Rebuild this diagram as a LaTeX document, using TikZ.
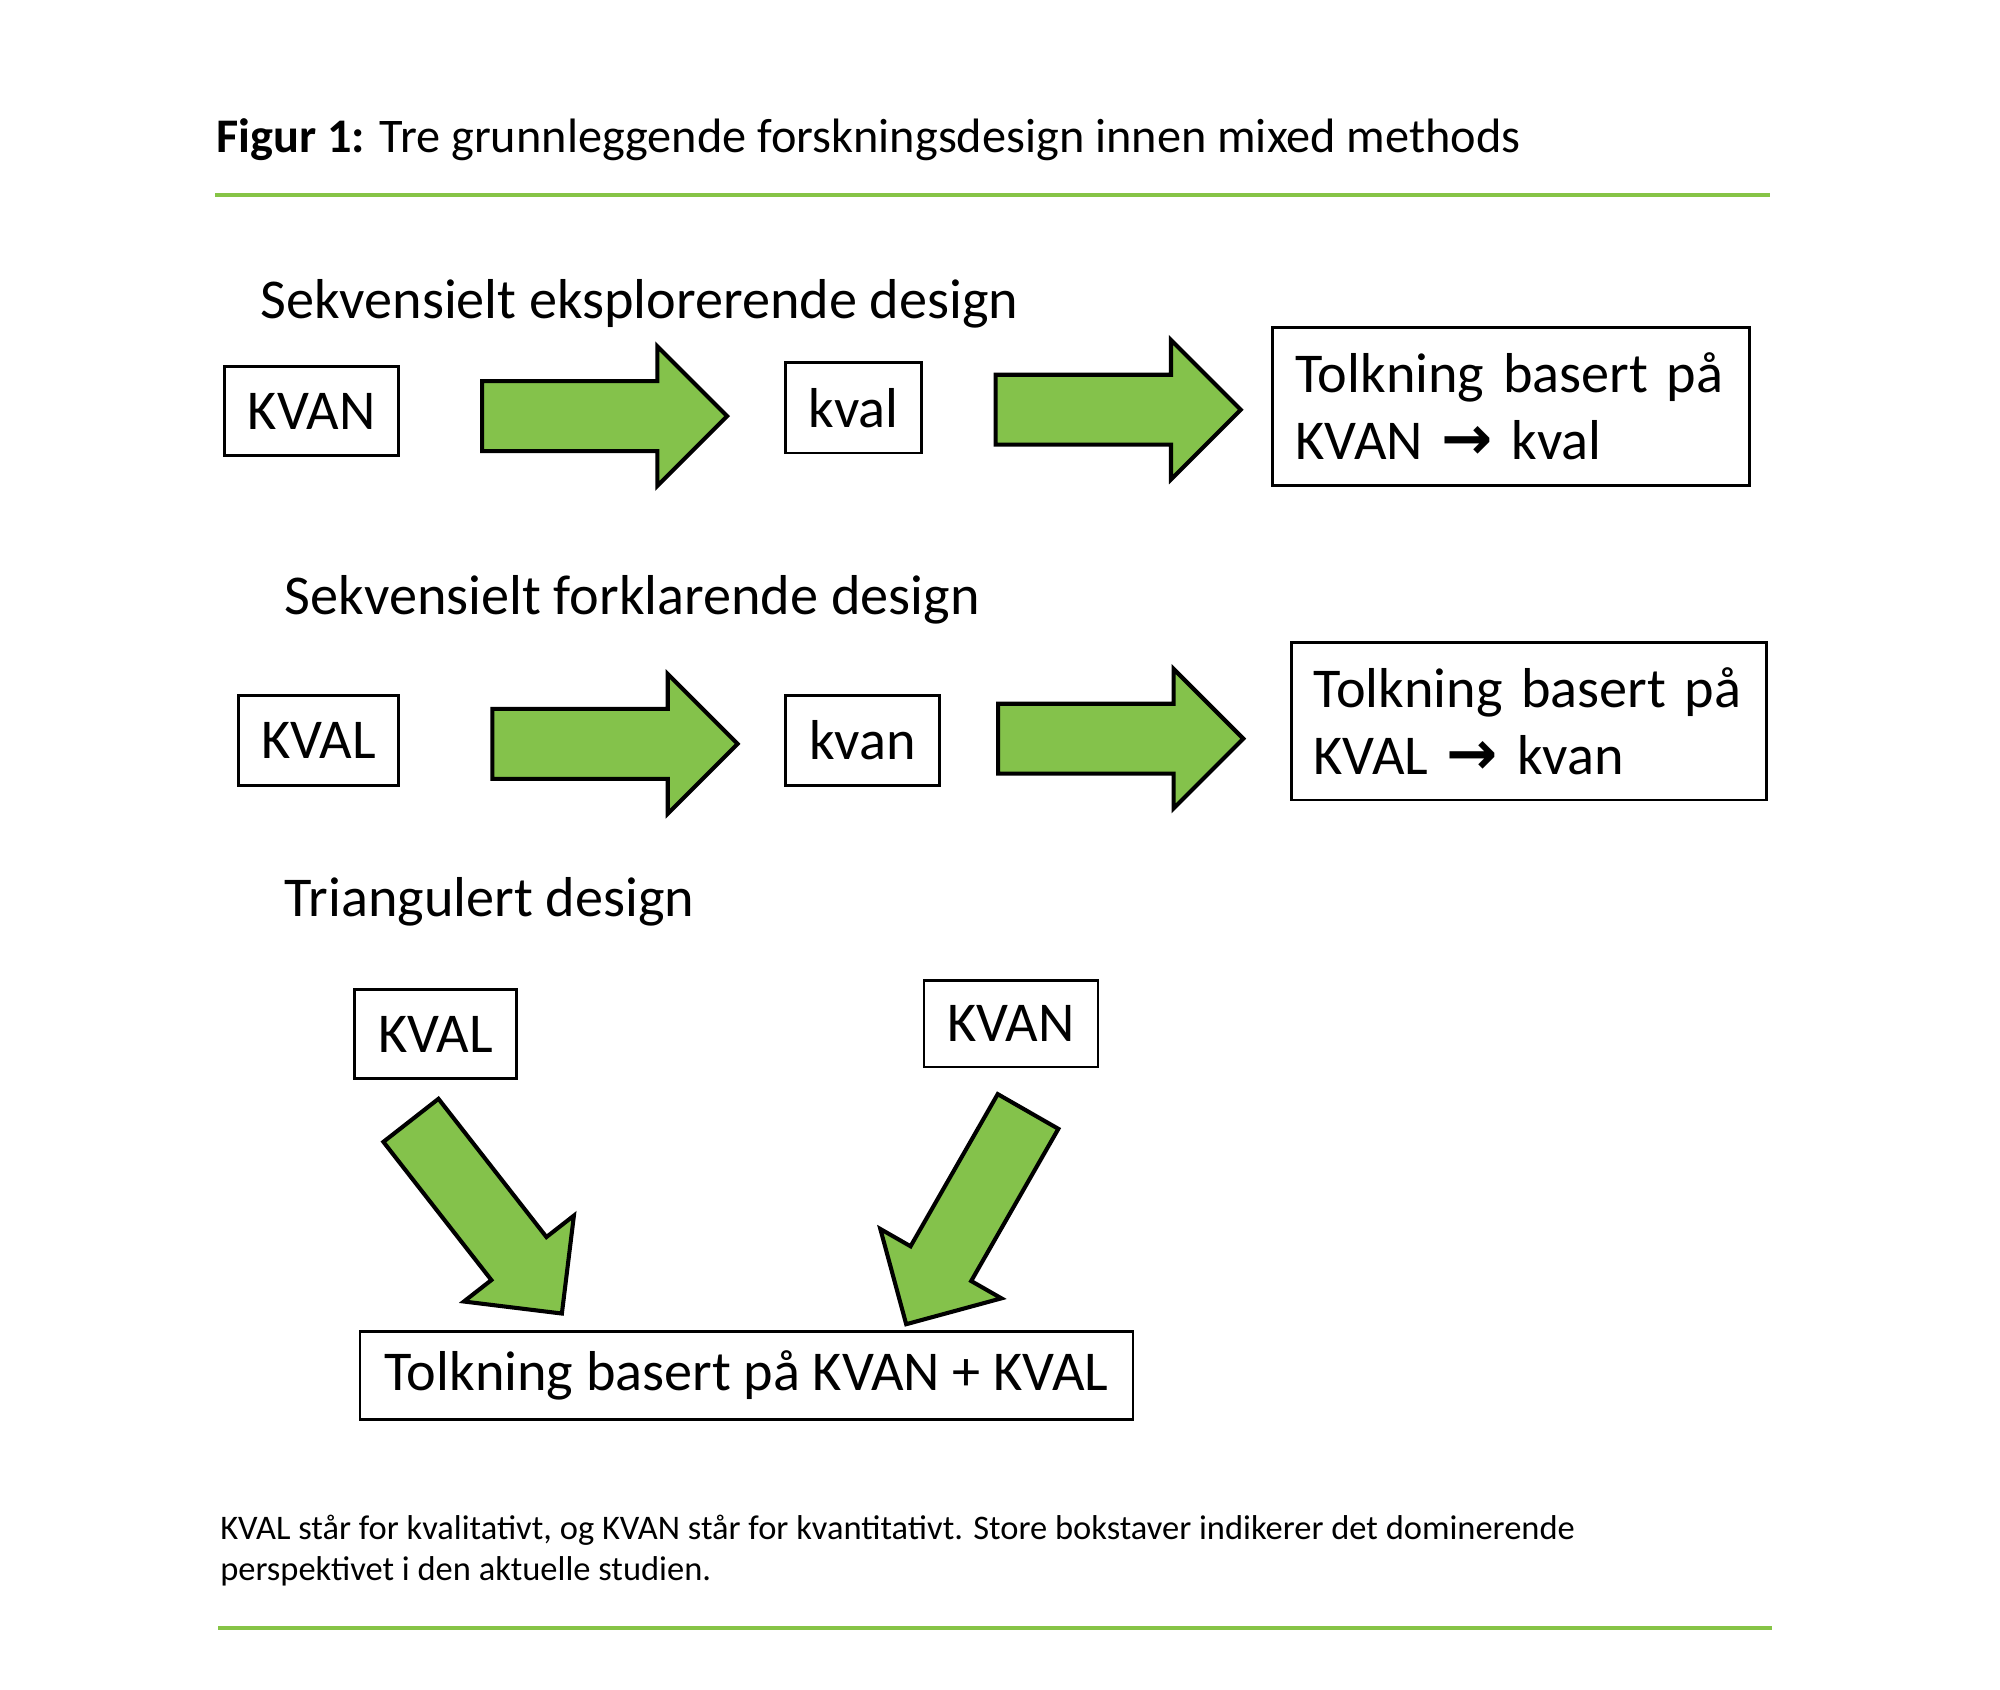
\documentclass[tikz,border=0pt]{standalone}
\usepackage{fontspec}
\setmainfont{Carlito}
\newfontfamily\arrowfont{DejaVu Sans}
\usetikzlibrary{shapes.arrows}
\definecolor{figgreen}{RGB}{132,194,75}
\definecolor{rulegreen}{RGB}{134,196,70}
\newcommand{\rarr}{{\arrowfont\bfseries\fontsize{13.5}{14}\selectfont\char"2192}}
\begin{document}
\begin{tikzpicture}[x=0.1mm, y=-0.1mm,
  box/.style={draw, line width=0.6pt, inner sep=0pt, font=\fontsize{12.4}{14.8}\selectfont},
  tolkbox/.style={box, align=left, text width=33.4mm},
  heading/.style={anchor=base west, inner sep=0pt, font=\fontsize{12.4}{14.8}\selectfont},
  blockarrow/.style={draw, line width=0.9pt, fill=figgreen, single arrow, single arrow head extend=2.7mm,
    inner xsep=0pt, inner ysep=2.55mm, minimum height=19mm, anchor=tail},
  rule/.style={draw=rulegreen, line width=0.9pt}]
\useasboundingbox (0,0) rectangle (1550,1309);
\node[anchor=base west, inner sep=0pt, font=\fontsize{10.65}{12}\selectfont] (title) at (167,118)
  {\textbf{Figur 1:} Tre grunnleggende forskningsdesign innen mixed methods};
\draw[rule] (167,151) -- (1372,151);

\node[heading] (seq1) at (201,247) {Sekvensielt eksplorerende design};
\node[box, minimum width=13.5mm, minimum height=6.9mm] (kvan1) at (241.5,318.5) {KVAN};
\node[blockarrow] (arr1) at (372,322.5) {};
\node[box, minimum width=10.5mm, minimum height=7mm] (kval1) at (661.5,316) {kval};
\node[blockarrow] (arr2) at (770,317.5) {};
\node[tolkbox, minimum width=37mm, minimum height=12.2mm] (tolk1) at (1171,315)
  {Tolkning basert på\\KVAN \rarr{} kval};

\node[heading] (seq2) at (220,476) {Sekvensielt forklarende design};
\node[box, minimum width=12.4mm, minimum height=7mm] (kval2) at (247,574) {KVAL};
\node[blockarrow] (arr3) at (380,576.5) {};
\node[box, minimum width=11.9mm, minimum height=7mm] (kvan2) at (668.5,574) {kvan};
\node[blockarrow] (arr4) at (772,572.5) {};
\node[tolkbox, minimum width=36.8mm, minimum height=12.2mm] (tolk2) at (1185,559)
  {Tolkning basert på\\KVAL \rarr{} kvan};

\node[heading] (tri) at (220,710) {Triangulert design};
\node[box, minimum width=12.5mm, minimum height=6.9mm] (kval3) at (337.5,801.5) {KVAL};
\node[box, minimum width=13.5mm, minimum height=6.7mm] (kvan3) at (783.5,793.5) {KVAN};
\node[blockarrow, rotate=-52] (arr5) at (317.5,867) {};
\node[blockarrow, rotate=-119.8] (arr6) at (797.5,860) {};
\node[box, minimum width=59.9mm, minimum height=6.8mm] (tolk3) at (578.5,1066)
  {Tolkning basert på KVAN + KVAL};

\node[anchor=base west, inner sep=0pt, font=\fontsize{7.6}{9.1}\selectfont] (note1) at (170,1193)
  {KVAL står for kvalitativt, og KVAN står for kvantitativt. Store bokstaver indikerer det dominerende};
\node[anchor=base west, inner sep=0pt, font=\fontsize{7.6}{9.1}\selectfont] (note2) at (170,1225)
  {perspektivet i den aktuelle studien.};
\draw[rule] (169,1262) -- (1373,1262);
\end{tikzpicture}
\end{document}
